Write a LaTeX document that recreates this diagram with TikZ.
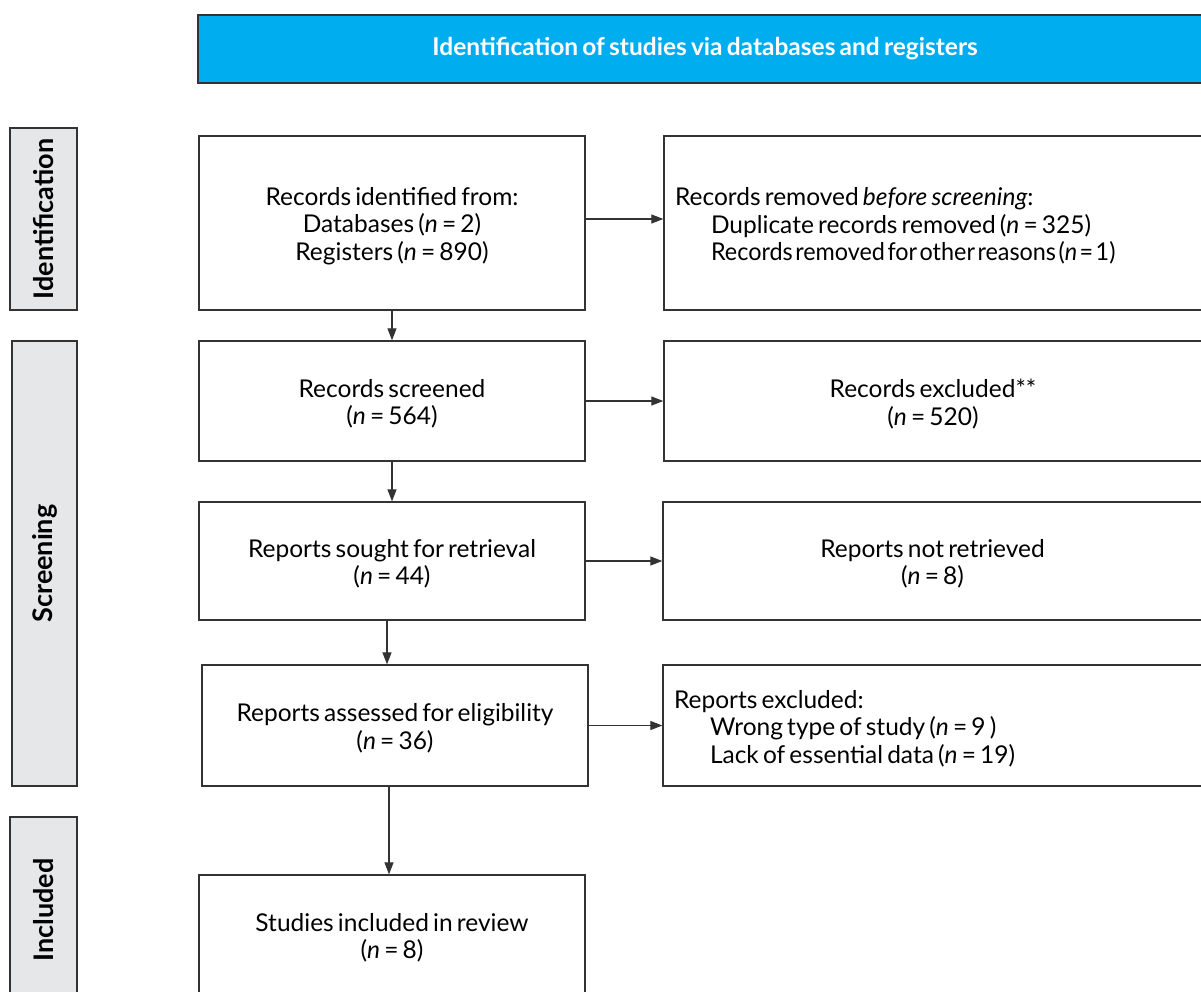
\documentclass[tikz,border=0pt]{standalone}
\usepackage{fontspec}
\usepackage{graphicx}
\setmainfont{Lato}
\usetikzlibrary{arrows.meta}
\definecolor{bannerblue}{HTML}{00AEEF}
\definecolor{labelgrey}{HTML}{E6E7E8}
\definecolor{edgegrey}{HTML}{333333}
% body text: Lato with fairly tight word spacing
\newcommand{\boxfont}{\fontsize{24.5}{27.5}\selectfont}
\newcommand{\boxsetup}{\spaceskip=0.17em plus 0.05em minus 0.05em\relax}
\newcommand{\bannerfont}{\fontsize{24.5}{27}\selectfont\bfseries\spaceskip=0.17em\relax}
\newcommand{\phasefont}{\fontsize{27}{29}\selectfont\bfseries}
\newcommand{\narrowline}[1]{\scalebox{0.955}[1]{\spaceskip=2.6pt\relax #1}}
\begin{document}
\begin{tikzpicture}[x=1pt,y=-1pt,
  box/.style={draw=edgegrey, line width=1.3pt, inner sep=0pt},
  intext/.style={inner sep=0pt, align=center, yshift=-3pt,
    font=\boxfont, execute at begin node=\boxsetup},
  inleft/.style={intext, align=left},
  phase/.style={draw=edgegrey, line width=1.3pt, fill=labelgrey, rotate=90,
    inner sep=0pt, font=\phasefont},
  flow/.style={draw=edgegrey, line width=1.2pt, -{Triangle[length=12pt,width=9pt]}}]
\useasboundingbox (0,0) rectangle (1201,991);
\clip (0,0) rectangle (1201,991);

% header banner
\node[draw=edgegrey, line width=1.3pt, fill=bannerblue, text=white,
  minimum width=1014pt, minimum height=68pt, inner sep=0pt, font=\bannerfont]
  (banner) at (705,49) {Identification of studies via databases and registers};

% phase labels on the left
\node[phase, minimum width=182pt, minimum height=67pt] (idlab) at (43.5,219) {Identification};
\node[phase, minimum width=445pt, minimum height=65pt] (scrlab) at (44.5,563.5) {Screening};
\node[phase, minimum width=186pt, minimum height=67pt] (inclab) at (43.5,910) {Included};

% main column
\node[box, minimum width=386pt, minimum height=174pt,
  label={[intext]center:{Records identified from:\\Databases (\textit{n} = 2)\\Registers (\textit{n} = 890)}}]
  (ident) at (392,223) {};
\node[box, minimum width=386pt, minimum height=120pt,
  label={[intext]center:{Records screened\\(\textit{n} = 564)}}]
  (screen) at (392,401) {};
\node[box, minimum width=386pt, minimum height=118pt,
  label={[intext]center:{Reports sought for retrieval\\(\textit{n} = 44)}}]
  (sought) at (392,561) {};
\node[box, minimum width=386pt, minimum height=121pt,
  label={[intext]center:{Reports assessed for eligibility\\(\textit{n} = 36)}}]
  (assess) at (395,725.5) {};
\node[box, minimum width=386pt, minimum height=120pt,
  label={[intext]center:{Studies included in review\\(\textit{n} = 8)}}]
  (incl) at (392,935) {};

% exclusion column
\node[box, minimum width=538pt, minimum height=174pt,
  label={[inleft, text width=516pt]center:{Records removed \textit{before screening}:\\
   \hspace*{36pt}Duplicate records removed (\textit{n} = 325)\\
   \hspace*{36pt}\narrowline{Records removed for other reasons (\textit{n} = 1)}}}]
  (removed) at (933,223) {};
\node[box, minimum width=538pt, minimum height=120pt,
  label={[intext]center:{Records excluded**\\(\textit{n} = 520)}}]
  (excl) at (933,401) {};
\node[box, minimum width=539pt, minimum height=118pt,
  label={[intext]center:{Reports not retrieved\\(\textit{n} = 8)}}]
  (notret) at (932.5,561) {};
\node[box, minimum width=539pt, minimum height=121pt,
  label={[inleft, text width=517pt]center:{Reports excluded:\\
   \hspace*{36pt}Wrong type of study (\textit{n} = 9 )\\
   \hspace*{36pt}Lack of essential data (\textit{n} = 19)}}]
  (repexcl) at (932.5,725.5) {};

% connectors
\draw[flow] ([yshift=4pt]ident.east) -- ([yshift=4pt]ident.east -| removed.west);
\draw[flow] (screen.east) -- (screen.east -| excl.west);
\draw[flow] (sought.east) -- (sought.east -| notret.west);
\draw[flow] (assess.east) -- (assess.east -| repexcl.west);
\draw[flow] (ident.south) -- (ident.south |- screen.north);
\draw[flow] (screen.south) -- (screen.south |- sought.north);
\draw[flow] ([xshift=-5pt]sought.south) -- ([xshift=-5pt]sought.south |- assess.north);
\draw[flow] ([xshift=-6pt]assess.south) -- ([xshift=-6pt]assess.south |- incl.north);
\end{tikzpicture}
\end{document}
